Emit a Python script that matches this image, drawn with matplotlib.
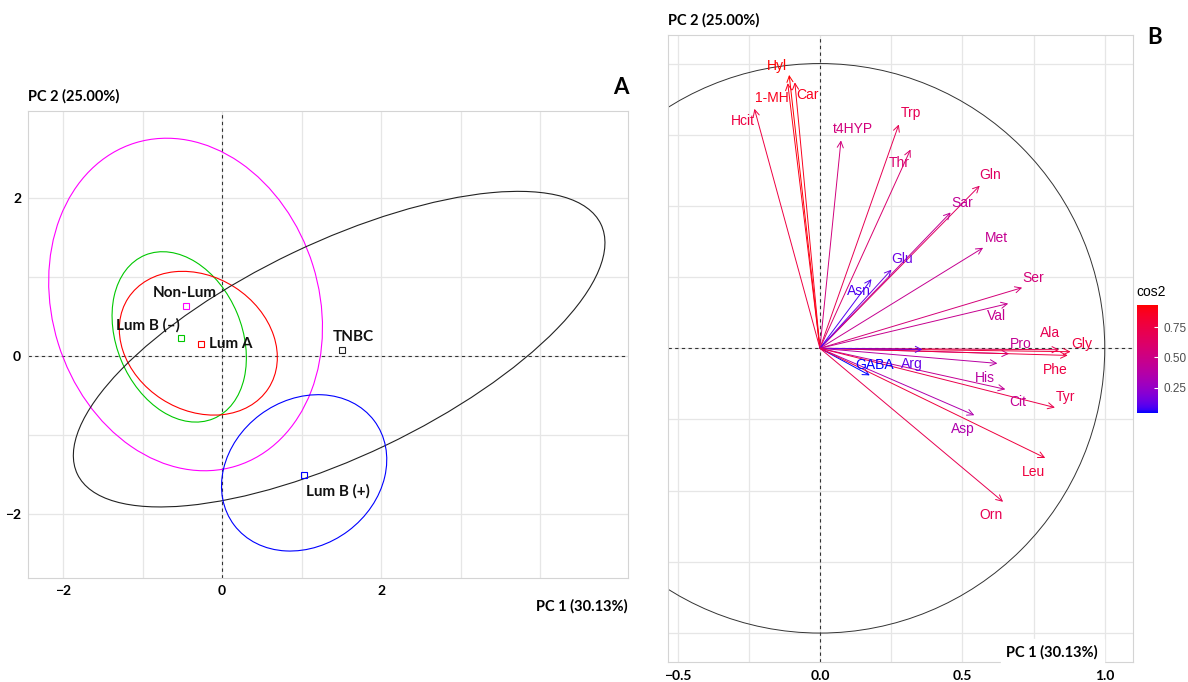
import numpy as np
import matplotlib
matplotlib.use("Agg")
import matplotlib.pyplot as plt
from matplotlib.patches import Ellipse, Circle
from matplotlib.colors import LinearSegmentedColormap, Normalize
from matplotlib.cm import ScalarMappable

# ---- Panel A: groups (individuals) ----
groups = ["Non-Lum", "Lum B (\u2013)", "Lum A", "TNBC", "Lum B (+)"]
grp_colors = ["#FF00FF", "#00C800", "#FF0000", "#222222", "#0000FF"]
grp_x = [-0.45, -0.52, -0.26, 1.50, 1.03]
grp_y = [0.63, 0.23, 0.15, 0.08, -1.51]
# ellipse centre, semi-axes and angle (deg)
ell_cx = [-0.46, -0.54, -0.30, 1.47, 1.03]
ell_cy = [0.65, 0.24, 0.16, 0.085, -1.48]
ell_a = [2.14, 1.12, 1.05, 3.65, 1.10]
ell_b = [1.675, 0.787, 0.843, 1.35, 0.92]
ell_ang = [-72.8, -67.5, -33.0, 25.7, 37.0]
grp_lab_x = [-0.47, -0.93, 0.11, 1.65, 1.46]
grp_lab_y = [0.80, 0.38, 0.15, 0.24, -1.72]

# ---- Panel B: variables ----
variables = ["Hyl", "1-MH", "Car", "Hcit", "t4HYP", "Trp", "Thr", "Gln", "Sar",
             "Met", "Glu", "Asn", "Ser", "Val", "Pro", "Ala", "Gly", "Phe",
             "Arg", "GABA", "His", "Cit", "Tyr", "Asp", "Leu", "Orn"]
var_x = [-0.108, -0.113, -0.088, -0.230, 0.074, 0.277, 0.318, 0.561, 0.459,
         0.573, 0.251, 0.181, 0.710, 0.661, 0.664, 0.840, 0.880, 0.870,
         0.360, 0.175, 0.623, 0.651, 0.825, 0.542, 0.791, 0.643]
var_y = [0.960, 0.931, 0.934, 0.841, 0.730, 0.786, 0.698, 0.571, 0.477,
         0.353, 0.276, 0.243, 0.213, 0.157, -0.019, -0.005, -0.012, -0.025,
         -0.004, -0.095, -0.053, -0.144, -0.208, -0.235, -0.385, -0.539]
var_lab_x = [-0.152, -0.170, -0.045, -0.271, 0.117, 0.318, 0.278, 0.599, 0.499,
             0.618, 0.290, 0.138, 0.748, 0.620, 0.705, 0.809, 0.918, 0.827,
             0.324, 0.193, 0.579, 0.696, 0.863, 0.501, 0.749, 0.602]
var_lab_y = [0.993, 0.878, 0.890, 0.798, 0.771, 0.826, 0.650, 0.607, 0.511,
             0.388, 0.313, 0.200, 0.248, 0.112, 0.014, 0.055, 0.014, -0.077,
             -0.056, -0.060, -0.103, -0.187, -0.171, -0.282, -0.434, -0.584]
cos2 = np.array(var_x) ** 2 + np.array(var_y) ** 2


# blue -> red gradient interpolated in Lab (like ggplot)
WHITE = np.array([0.95047, 1.0, 1.08883])
M = np.array([[0.4124, 0.3576, 0.1805], [0.2126, 0.7152, 0.0722], [0.0193, 0.1192, 0.9505]])


def rgb2lab(rgb):
    c = np.array(rgb, dtype=float)
    c = np.where(c <= 0.04045, c / 12.92, ((c + 0.055) / 1.055) ** 2.4)
    xyz = M @ c / WHITE
    d = 6 / 29
    f = np.where(xyz > d ** 3, np.cbrt(xyz), xyz / (3 * d * d) + 4 / 29)
    return np.array([116 * f[1] - 16, 500 * (f[0] - f[1]), 200 * (f[1] - f[2])])


def lab2rgb(lab):
    L, a, b = lab
    fy = (L + 16) / 116
    f = np.array([fy + a / 500, fy, fy - b / 200])
    d = 6 / 29
    xyz = np.where(f > d, f ** 3, 3 * d * d * (f - 4 / 29)) * WHITE
    c = np.linalg.solve(M, xyz)
    c = np.clip(c, 0, 1)
    c = np.where(c <= 0.0031308, 12.92 * c, 1.055 * c ** (1 / 2.4) - 0.055)
    return np.clip(c, 0, 1)


lab_lo, lab_hi = rgb2lab([0, 0, 1]), rgb2lab([1, 0, 0])
stops = [lab2rgb(lab_lo + t * (lab_hi - lab_lo)) for t in np.linspace(0, 1, 32)]
cmap = LinearSegmentedColormap.from_list("bluered", stops)
norm = Normalize(vmin=cos2.min(), vmax=cos2.max())

plt.rcParams["font.family"] = ["Lato", "DejaVu Sans"]
fig = plt.figure(figsize=(11.88, 6.82), dpi=100)
fig.set_facecolor("white")

grid_c = "#e6e6e6"
spine_c = "#d4d4d4"
arial = ["Liberation Sans", "DejaVu Sans"]

# ================= Panel A =================
axA = fig.add_axes([0.0236, 0.1525, 0.505, 0.685])
axA.set_xlim(-2.44, 5.1)
axA.set_ylim(-2.81, 3.1)
for v in range(-2, 5):
    axA.axvline(v, color=grid_c, lw=0.9, zorder=0)
for v in range(-2, 3):
    axA.axhline(v, color=grid_c, lw=0.9, zorder=0)
axA.axvline(0, color="#333333", lw=0.8, ls=(0, (3, 3)), zorder=1)
axA.axhline(0, color="#333333", lw=0.8, ls=(0, (3, 3)), zorder=1)

for i, g in enumerate(groups):
    e = Ellipse((ell_cx[i], ell_cy[i]), 2 * ell_a[i], 2 * ell_b[i], angle=ell_ang[i],
                fill=False, ec=grp_colors[i], lw=0.8, zorder=2)
    axA.add_patch(e)
    axA.plot(grp_x[i], grp_y[i], marker="s", ms=4, mfc="none", mec=grp_colors[i],
             mew=0.8, ls="none", zorder=3)
    axA.text(grp_lab_x[i], grp_lab_y[i], g, fontsize=11, fontweight="bold",
             ha="center", va="center", color="#111111", zorder=4)

axA.set_xticks([-2, 0, 2])
axA.set_xticklabels(["\u22122", "0", "2"])
axA.set_yticks([-2, 0, 2])
axA.set_yticklabels(["\u22122", "0", "2"])
axA.tick_params(length=0, labelsize=10, pad=5)
for lab in axA.get_xticklabels() + axA.get_yticklabels():
    lab.set_fontweight("bold")
for s in axA.spines.values():
    s.set_color(spine_c)
    s.set_linewidth(0.8)

fig.text(28 / 1188, 1 - 96 / 682, "PC 2 (25.00%)", fontsize=10.5, fontweight="bold",
         ha="left", va="center")
fig.text(628 / 1188, 1 - 606 / 682, "PC 1 (30.13%)", fontsize=10.5, fontweight="bold",
         ha="right", va="center", backgroundcolor="white")
fig.text(621 / 1188, 1 - 87 / 682, "A", fontsize=16, fontweight="bold",
         ha="center", va="center")

# ================= Panel B =================
axB = fig.add_axes([0.5619, 0.030, 0.392, 0.9186])
axB.set_xlim(-0.535, 1.10)
axB.set_ylim(-1.10, 1.10)
for v in np.arange(-0.5, 1.01, 0.25):
    axB.axvline(v, color=grid_c, lw=0.9, zorder=0)
for v in np.arange(-1.0, 1.01, 0.25):
    axB.axhline(v, color=grid_c, lw=0.9, zorder=0)
axB.axvline(0, color="#333333", lw=0.8, ls=(0, (3, 3)), zorder=1)
axB.axhline(0, color="#333333", lw=0.8, ls=(0, (3, 3)), zorder=1)
axB.add_patch(Circle((0, 0), 1.0, fill=False, ec="#333333", lw=0.7, zorder=1))

for i, v in enumerate(variables):
    c = cmap(norm(cos2[i]))
    axB.annotate("", xy=(var_x[i], var_y[i]), xytext=(0, 0),
                 arrowprops=dict(arrowstyle="->", color=c, lw=0.7,
                                 shrinkA=0, shrinkB=0, mutation_scale=11),
                 zorder=3)
    axB.text(var_lab_x[i], var_lab_y[i], v, fontsize=10, color=c,
             family=arial, ha="center", va="center", zorder=4)

axB.set_xticks([-0.5, 0.0, 0.5, 1.0])
axB.set_xticklabels(["\u22120.5", "0.0", "0.5", "1.0"])
axB.set_yticks([])
axB.tick_params(length=0, labelsize=10, pad=6)
for lab in axB.get_xticklabels():
    lab.set_fontweight("bold")
for s in axB.spines.values():
    s.set_color(spine_c)
    s.set_linewidth(0.8)

fig.text(668 / 1188, 1 - 20 / 682, "PC 2 (25.00%)", fontsize=10.5, fontweight="bold",
         ha="left", va="center")
fig.text(1098 / 1188, 1 - 652 / 682, "PC 1 (30.13%)", fontsize=10.5, fontweight="bold",
         ha="right", va="center", backgroundcolor="white", zorder=5)
fig.text(1155 / 1188, 1 - 38 / 682, "B", fontsize=16, fontweight="bold",
         ha="center", va="center")

# colour bar
cax = fig.add_axes([1137 / 1188, 1 - 413 / 682, 21 / 1188, 108 / 682])
cb = fig.colorbar(ScalarMappable(norm=norm, cmap=cmap), cax=cax)
cb.outline.set_visible(False)
cb.set_ticks([0.25, 0.50, 0.75])
cb.ax.tick_params(length=3, color="white", direction="in", labelsize=8.5,
                  labelcolor="#4d4d4d", pad=4)
for lab in cb.ax.get_yticklabels():
    lab.set_family(arial)
fig.text(1136 / 1188, 1 - 292 / 682, "cos2", fontsize=10, ha="left", va="center",
         family=arial)

fig.savefig("out.png", dpi=100, facecolor="white")
